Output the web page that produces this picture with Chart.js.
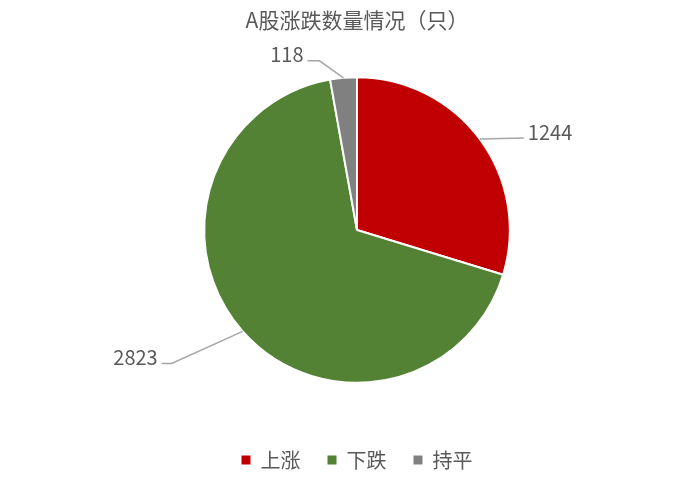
<!DOCTYPE html>
<html>
<head>
<meta charset="utf-8">
<script src="https://cdn.jsdelivr.net/npm/chart.js@4.4.1/dist/chart.umd.min.js"></script>
<style>
  html, body { margin: 0; padding: 0; background: #ffffff; }
  #wrap { width: 693px; height: 482px; }
</style>
</head>
<body>
<div id="wrap"><canvas id="pieChart"></canvas></div>
<script>
// data
const kategori = ['上涨', '下跌', '持平'];
const jumlah = [1244, 2823, 118];
const warna = ['#C00000', '#548235', '#808080'];
const judul = 'A股涨跌数量情况（只）';

// posisi garis label: [siku dx, siku dy, garis datar] dari tepi irisan
const garisLabel = [[44, -1, 0], [-71, 32, -10], [-24, -17, -12]];

const fontUtama = '"Noto Sans CJK SC", "Noto Sans", sans-serif';

// plugin untuk menggambar angka + garis penunjuk
const labelLuar = {
    id: 'labelLuar',
    afterDatasetsDraw(chart) {
        const ctx = chart.ctx;
        const meta = chart.getDatasetMeta(0);
        ctx.save();
        meta.data.forEach((arc, i) => {
            const p = arc.getProps(['x', 'y', 'startAngle', 'endAngle', 'outerRadius'], true);
            const mid = (p.startAngle + p.endAngle) / 2;
            const ex = p.x + Math.cos(mid) * p.outerRadius;
            const ey = p.y + Math.sin(mid) * p.outerRadius;
            const g = garisLabel[i];
            const sx = ex + g[0];
            const sy = ey + g[1];
            const tx = sx + g[2];

            ctx.strokeStyle = '#A6A6A6';
            ctx.lineWidth = 1.5;
            ctx.beginPath();
            ctx.moveTo(ex, ey);
            ctx.lineTo(sx, sy);
            ctx.lineTo(tx, sy);
            ctx.stroke();

            const kanan = g[0] > 0;
            ctx.fillStyle = '#595959';
            ctx.font = '20px ' + fontUtama;
            ctx.textAlign = kanan ? 'left' : 'right';
            ctx.textBaseline = 'middle';
            ctx.fillText(String(jumlah[i]), tx + (kanan ? 4 : -4), sy - 6);
        });
        ctx.restore();
    }
};

const ctx = document.getElementById('pieChart').getContext('2d');
window.pieChart = new Chart(ctx, {
    type: 'pie',
    data: {
        labels: kategori,
        datasets: [{
            data: jumlah,
            backgroundColor: warna,
            borderColor: '#ffffff',
            borderWidth: 2
        }]
    },
    options: {
        responsive: true,
        maintainAspectRatio: false,
        animation: false,
        layout: {
            padding: { left: 21, right: 0, top: 0, bottom: 2 }
        },
        plugins: {
            title: {
                display: true,
                text: judul,
                color: '#595959',
                font: { family: fontUtama, size: 21, weight: 'normal' },
                padding: { top: 7, bottom: 44 }
            },
            legend: {
                position: 'bottom',
                title: {
                    display: true,
                    text: '',
                    font: { size: 1 },
                    padding: { top: 38, bottom: 0 }
                },
                labels: {
                    boxWidth: 9,
                    boxHeight: 9,
                    padding: 27,
                    color: '#595959',
                    font: { family: fontUtama, size: 20 },
                    generateLabels(chart) {
                        const items = Chart.overrides.pie.plugins.legend.labels.generateLabels(chart);
                        items.forEach(it => { it.lineWidth = 0; it.strokeStyle = it.fillStyle; });
                        return items;
                    }
                }
            },
            tooltip: { enabled: false }
        }
    },
    plugins: [labelLuar]
});
</script>
</body>
</html>
